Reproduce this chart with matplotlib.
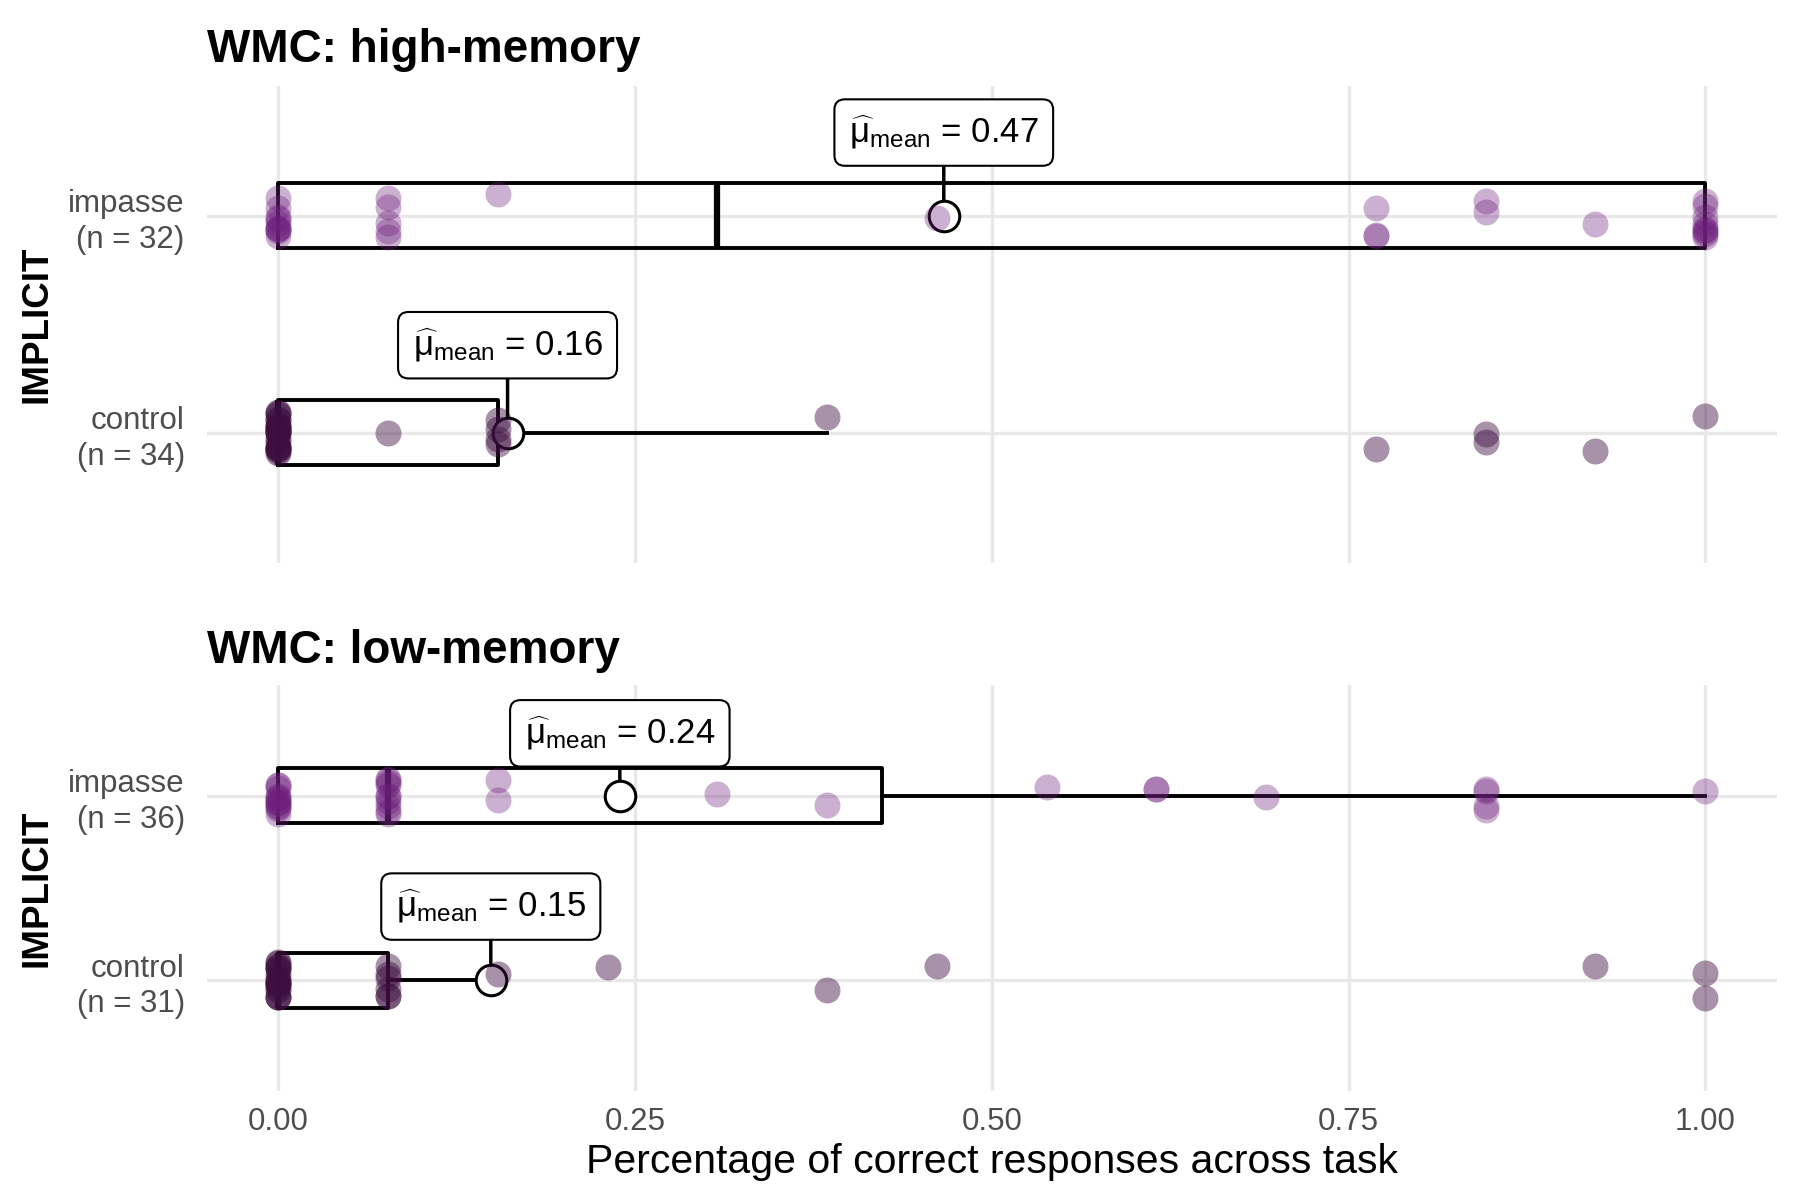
import matplotlib.pyplot as plt
import numpy as np

plt.rcParams['font.family'] = ['Liberation Sans', 'DejaVu Sans']
plt.rcParams['mathtext.fontset'] = 'custom'
plt.rcParams['mathtext.rm'] = 'Liberation Sans'
plt.rcParams['mathtext.it'] = 'Liberation Sans:italic'
plt.rcParams['mathtext.bf'] = 'Liberation Sans:bold'

# number of items in the task; scores are "items correct"
n_items = 13
conditions = ['control', 'impasse']
panel_titles = ['WMC: high-memory', 'WMC: low-memory']

# high-memory group
hi_control = [0, 0, 0, 0, 0, 0, 0, 0, 0, 0, 0, 0, 0, 0, 0, 0, 0, 0, 0, 0, 0, 0, 0,
              1, 2, 2, 2, 2, 5, 10, 11, 11, 12, 13]
hi_impasse = [0, 0, 0, 0, 0, 0, 0, 0, 0, 0, 1, 1, 1, 1, 1, 2, 6,
              10, 10, 10, 11, 11, 12, 13, 13, 13, 13, 13, 13, 13, 13, 13]

# low-memory group
lo_control = [0, 0, 0, 0, 0, 0, 0, 0, 0, 0, 0, 0, 0, 0, 0, 0, 0, 0,
              1, 1, 1, 1, 1, 1, 2, 3, 5, 6, 12, 13, 13]
lo_impasse = [0, 0, 0, 0, 0, 0, 0, 0, 0, 0, 0, 0, 0,
              1, 1, 1, 1, 1, 1, 1, 1, 1, 1, 2, 2, 4, 5,
              7, 8, 8, 9, 11, 11, 11, 11, 13]

x_ticks = [0.0, 0.25, 0.5, 0.75, 1.0]
x_tick_labels = ['0.00', '0.25', '0.50', '0.75', '1.00']

point_colors = {'control': '#3d0f40', 'impasse': '#6d1f7c'}
point_alpha = {'control': 0.45, 'impasse': 0.35}
tick_color = '#4d4d4d'
grid_color = '#e8e8e8'


def draw_panel(ax, groups, title, label_offsets, title_pad, seed):
    rng = np.random.default_rng(seed)
    data = [np.array(groups[c]) / n_items for c in conditions]
    positions = [1, 2]

    ax.boxplot(data, positions=positions, orientation='horizontal', widths=0.3,
               showfliers=False, showcaps=False,
               boxprops=dict(color='black', lw=2.8),
               whiskerprops=dict(color='black', lw=2.8),
               medianprops=dict(color='black', lw=4.5),
               zorder=3)

    for pos, cond, vals in zip(positions, conditions, data):
        m = vals.mean()
        ax.plot(m, pos, 'o', ms=22, mfc='white', mec='black', mew=2.2, zorder=3.5)
        jit = rng.uniform(-0.1, 0.1, len(vals))
        ax.scatter(vals, pos + jit, s=350, color=point_colors[cond],
                   alpha=point_alpha[cond], lw=0, zorder=4)
        ax.annotate(r'$\widehat{\mathrm{\mu}}_{\mathrm{mean}}$ = ' + f'{m:.2f}',
                    xy=(m, pos), xytext=(0, label_offsets[cond]),
                    textcoords='offset points', ha='center', va='center',
                    fontsize=25, zorder=6,
                    bbox=dict(boxstyle='round,pad=0.42,rounding_size=0.3',
                              fc='white', ec='black', lw=1.5),
                    arrowprops=dict(arrowstyle='-', color='black', lw=2.5,
                                    shrinkA=0, shrinkB=11))

    ax.set_xlim(-0.05, 1.05)
    ax.set_ylim(0.4, 2.6)
    ax.set_xticks(x_ticks, labels=x_tick_labels)
    ax.set_yticks(positions, labels=[f'{c}\n(n = {len(groups[c])})' for c in conditions])
    for t in ax.get_yticklabels():
        t.set_linespacing(1.25)
    ax.tick_params(length=0, labelsize=22.5, labelcolor=tick_color)
    ax.tick_params(axis='y', pad=16)
    ax.tick_params(axis='x', pad=12)
    ax.grid(True, color=grid_color, lw=2.4)
    ax.set_axisbelow(True)
    for s in ax.spines.values():
        s.set_visible(False)
    ax.set_ylabel('IMPLICIT', fontsize=26.5, fontweight='bold')
    ax.yaxis.label.set_va('center')
    ax.yaxis.set_label_coords(-0.1085, 0.5)
    ax.set_title(title, loc='left', fontsize=33, fontweight='bold', pad=title_pad)


fig = plt.figure(figsize=(18, 12), dpi=100)
ax_hi = fig.add_axes([0.115, 0.531, 0.872, 0.3975])
ax_lo = fig.add_axes([0.115, 0.091, 0.872, 0.338])

draw_panel(ax_hi, {'control': hi_control, 'impasse': hi_impasse}, panel_titles[0],
           {'control': 63, 'impasse': 60}, 17, 11)
draw_panel(ax_lo, {'control': lo_control, 'impasse': lo_impasse}, panel_titles[1],
           {'control': 53, 'impasse': 45}, 16, 5)

ax_hi.tick_params(labelbottom=False)
ax_lo.set_xlabel('Percentage of correct responses across task', fontsize=29.5, labelpad=4)

fig.savefig('out.png', dpi=100)
